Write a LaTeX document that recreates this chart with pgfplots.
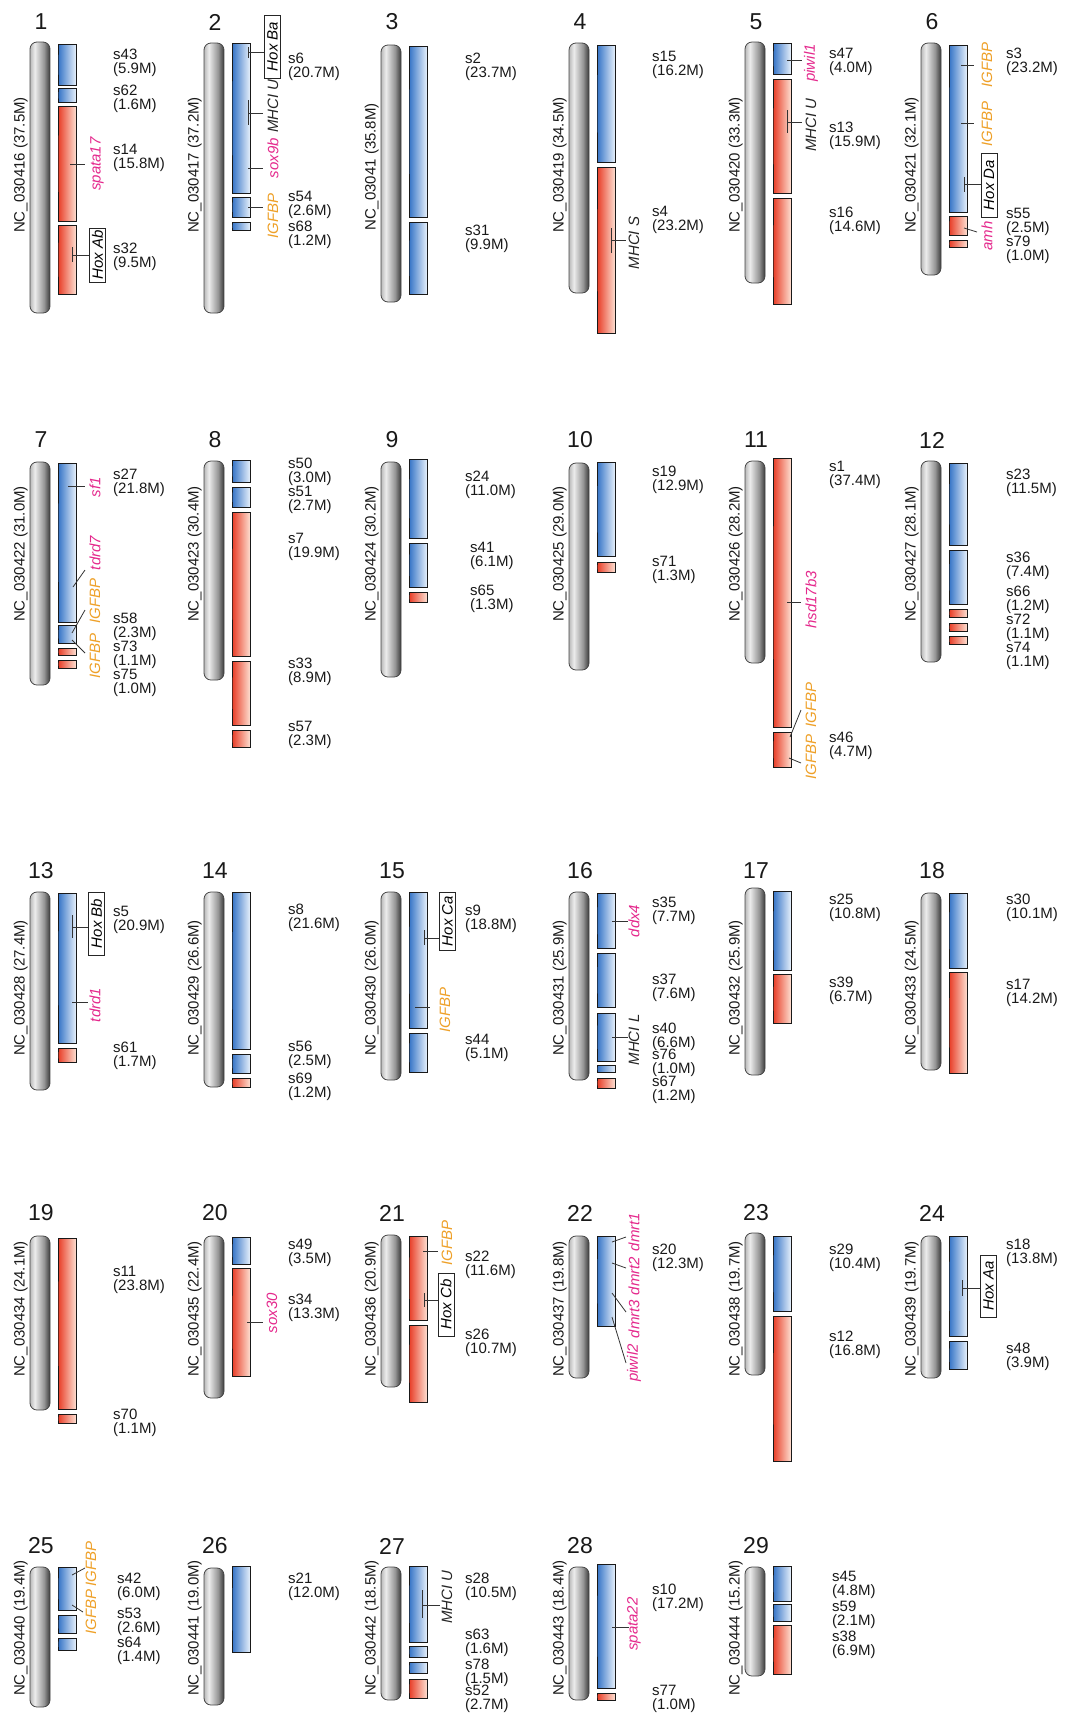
\documentclass[border=0pt]{standalone}
\usepackage{pgfplots}
\pgfplotsset{compat=1.18}
\usepackage{fontspec}
\setmainfont{Liberation Sans}
\definecolor{cg0}{RGB}{185,185,185}
\definecolor{cg1}{RGB}{236,236,236}
\definecolor{cgm}{RGB}{150,150,150}
\definecolor{cg2}{RGB}{58,58,58}
\definecolor{cgb}{RGB}{70,70,70}
\definecolor{bl0}{RGB}{52,115,198}
\definecolor{bl1}{RGB}{230,240,251}
\definecolor{rd0}{RGB}{232,60,38}
\definecolor{rd1}{RGB}{253,222,208}
\definecolor{pk}{RGB}{228,40,140}
\definecolor{og}{RGB}{238,160,40}
\pgfdeclarehorizontalshading{chromsh}{100bp}{color(0bp)=(cg0); color(25bp)=(cg0); color(37bp)=(cg1); color(60bp)=(cgm); color(75bp)=(cg2); color(100bp)=(cg2)}
\newcommand\lf{\fontsize{15}{13.5}\selectfont}
\newcommand\nf{\fontsize{23}{23}\selectfont}
\tikzset{
  chromst/.style={draw=cgb, line width=0.8pt, rounded corners=7pt, shade, shading=chromsh},
  bseg/.style={draw=black!90, line width=0.8pt, left color=bl0, right color=bl1},
  rseg/.style={draw=black!90, line width=0.8pt, left color=rd0, right color=rd1},
  annot/.style={draw=black!80, line width=0.8pt},
  lab/.style={anchor=west, align=left, inner sep=0pt, font=\lf, text=black!90},
  gn/.style={inner sep=0pt, font=\lf\itshape, rotate=90},
}
% grey chromosome: x left, top, bottom, number, number y, name, name y
\newcommand\chrom[7]{%
  \pgfmathsetmacro\xa{#1}\pgfmathsetmacro\xb{#1+20}\pgfmathsetmacro\ym{(#2+#3)/2}%
  \edef\mytmp{\noexpand\addplot[chromst] coordinates {(\xa,\ym) (\xa,#2) (\xb,#2) (\xb,#3) (\xa,#3)} --cycle;}\mytmp
  \node[font=\nf, inner sep=0pt, text=black!90] at (axis cs:#1+11,#5) {#4};
  \node[font=\lf, inner sep=0pt, rotate=90, anchor=south, text=black!90] at (axis cs:#1-2,#7) {#6};
}
% segment: chromosome x left, top, bottom, style
\newcommand\seg[4]{%
  \pgfmathsetmacro\xa{#1+28}\pgfmathsetmacro\xb{#1+46}\pgfmathsetmacro\ym{(#2+#3)/2}%
  \edef\mytmp{\noexpand\addplot[#4] coordinates {(\xa,\ym) (\xa,#2) (\xb,#2) (\xb,#3) (\xa,#3)} --cycle;}\mytmp
}
\newcommand\slab[4]{\node[lab] at (axis cs:#1,#2) {#3\\(#4M)};}
\newcommand\gene[4]{\node[gn, text=#3] at (axis cs:#1,#2) {#4};}
\newcommand\gl[4]{\addplot[annot] coordinates {(#1,#2) (#3,#4)};}
\newcommand\tee[5]{\addplot[annot] coordinates {(#1,#2) (#1,#3)};\addplot[annot] coordinates {(#1,#4) (#5,#4)};}
\newcommand\hox[4]{\node[draw=black!85, line width=0.8pt, fill=white, rotate=90, font=\lf\itshape, inner sep=0pt, minimum width=#3pt, minimum height=16pt] at (axis cs:#1,#2) {#4};}
\begin{document}
\begin{tikzpicture}
\begin{axis}[scale only axis, width=1068pt, height=1717pt,
  xmin=0, xmax=1068, ymin=0, ymax=1717, y dir=reverse, hide axis, clip=false]
\addplot[draw=none] coordinates {(0,0) (1068,1717)};
% ---------------- Row 1
\chrom{30}{42}{313}{1}{22}{NC\_030416 (37.5M)}{165}
\seg{30}{44}{85}{bseg}\seg{30}{88}{102}{bseg}\seg{30}{106}{221}{rseg}\seg{30}{225}{294}{rseg}
\slab{113}{63}{s43}{5.9}\slab{113}{99}{s62}{1.6}\slab{113}{158}{s14}{15.8}\slab{113}{257}{s32}{9.5}
\gl{70}{164}{85}{164}\gene{97}{164}{pk}{spata17}
\tee{72}{247}{262}{255}{89}\hox{97.5}{255}{54}{Hox Ab}

\chrom{204}{43}{313}{2}{22}{NC\_030417 (37.2M)}{165}
\seg{204}{43}{193}{bseg}\seg{204}{197}{217}{bseg}\seg{204}{222}{230}{bseg}
\slab{288}{67}{s6}{20.7}\slab{288}{205}{s54}{2.6}\slab{288}{235}{s68}{1.2}
\tee{248}{47}{58}{52}{265}\hox{272.5}{46.5}{63}{Hox Ba}
\tee{248}{100}{125}{113}{263}\gene{273}{106}{black!85}{MHCI U}
\gl{248}{168}{263}{168}\gene{273}{158}{pk}{sox9b}
\gl{248}{207}{263}{207}\gene{273}{216}{og}{IGFBP}

\chrom{381}{45}{302}{3}{22}{NC\_03041 (35.8M)}{167}
\seg{381}{46}{217}{bseg}\seg{381}{222}{294}{bseg}
\slab{465}{67}{s2}{23.7}\slab{465}{239}{s31}{9.9}

\chrom{569}{43}{293}{4}{22}{NC\_030419 (34.5M)}{165}
\seg{569}{45}{162}{bseg}\seg{569}{167}{333}{rseg}
\slab{652}{65}{s15}{16.2}\slab{652}{220}{s4}{23.2}
\tee{611}{228}{253}{240}{626}\gene{634}{243}{black!85}{MHCI S}

\chrom{745}{42}{283}{5}{22}{NC\_030420 (33.3M)}{165}
\seg{745}{43}{74}{bseg}\seg{745}{79}{193}{rseg}\seg{745}{198}{304}{rseg}
\slab{829}{62}{s47}{4.0}\slab{829}{136}{s13}{15.9}\slab{829}{221}{s16}{14.6}
\gl{787}{60}{802}{60}\gene{811}{63}{pk}{piwil1}
\tee{787}{110}{133}{122}{802}\gene{811}{125}{black!85}{MHCI U}

\chrom{921}{43}{275}{6}{22}{NC\_030421 (32.1M)}{165}
\seg{921}{45}{212}{bseg}\seg{921}{216}{235}{rseg}\seg{921}{240}{247}{rseg}
\slab{1006}{62}{s3}{23.2}\slab{1006}{222}{s55}{2.5}\slab{1006}{250}{s79}{1.0}
\gl{961}{65}{974}{65}\gene{987}{65}{og}{IGFBP}
\gl{961}{123}{974}{123}\gene{987}{124}{og}{IGFBP}
\tee{964}{177}{192}{184}{981}\hox{989}{185}{64}{Hox Da}
\gl{964}{228}{977}{232}\gene{987}{236}{pk}{amh}
% ---------------- Row 2
\chrom{30}{462}{685}{7}{440}{NC\_030422 (31.0M)}{554}
\seg{30}{463}{622}{bseg}\seg{30}{625}{643}{bseg}\seg{30}{648}{655}{rseg}\seg{30}{660}{668}{rseg}
\slab{113}{483}{s27}{21.8}\slab{113}{627}{s58}{2.3}\slab{113}{655}{s73}{1.1}\slab{113}{683}{s75}{1.0}
\gl{68}{486}{85}{486}\gene{95}{487}{pk}{sf1}
\gl{73}{587}{85}{570}\gene{95}{553}{pk}{tdrd7}
\gl{72}{633}{85}{610}\gene{95}{601}{og}{IGFBP}
\gl{72}{640}{85}{653}\gene{95}{656}{og}{IGFBP}

\chrom{204}{461}{680}{8}{440}{NC\_030423 (30.4M)}{554}
\seg{204}{460}{482}{bseg}\seg{204}{487}{507}{bseg}\seg{204}{512}{656}{rseg}\seg{204}{661}{725}{rseg}\seg{204}{730}{747}{rseg}
\slab{288}{472}{s50}{3.0}\slab{288}{500}{s51}{2.7}\slab{288}{547}{s7}{19.9}\slab{288}{672}{s33}{8.9}\slab{288}{735}{s57}{2.3}

\chrom{381}{462}{677}{9}{440}{NC\_030424 (30.2M)}{554}
\seg{381}{459}{538}{bseg}\seg{381}{543}{587}{bseg}\seg{381}{592}{602}{rseg}
\slab{465}{485}{s24}{11.0}\slab{470}{556}{s41}{6.1}\slab{470}{599}{s65}{1.3}

\chrom{569}{463}{670}{10}{440}{NC\_030425 (29.0M)}{554}
\seg{569}{462}{556}{bseg}\seg{569}{562}{572}{rseg}
\slab{652}{480}{s19}{12.9}\slab{652}{570}{s71}{1.3}

\chrom{745}{461}{663}{11}{440}{NC\_030426 (28.2M)}{554}
\seg{745}{458}{727}{rseg}\seg{745}{732}{767}{rseg}
\slab{829}{475}{s1}{37.4}\slab{829}{746}{s46}{4.7}
\gl{787}{602}{801}{602}\gene{811}{600}{pk}{hsd17b3}
\gl{790}{737}{801}{710}\gene{811}{705}{og}{IGFBP}
\gl{789}{758}{801}{763}\gene{811}{757}{og}{IGFBP}

\chrom{921}{461}{662}{12}{440}{NC\_030427 (28.1M)}{554}
\seg{921}{463}{545}{bseg}\seg{921}{550}{604}{bseg}\seg{921}{609}{617}{rseg}\seg{921}{623}{631}{rseg}\seg{921}{636}{644}{rseg}
\slab{1006}{483}{s23}{11.5}\slab{1006}{566}{s36}{7.4}\slab{1006}{600}{s66}{1.2}\slab{1006}{628}{s72}{1.1}\slab{1006}{656}{s74}{1.1}
% ---------------- Row 3
\chrom{30}{892}{1090}{13}{871}{NC\_030428 (27.4M)}{988}
\seg{30}{893}{1043}{bseg}\seg{30}{1048}{1062}{rseg}
\slab{113}{920}{s5}{20.9}\slab{113}{1056}{s61}{1.7}
\tee{72}{915}{938}{927}{88}\hox{96.5}{923.5}{63}{Hox Bb}
\gl{72}{1002}{88}{1002}\gene{95}{1005}{pk}{tdrd1}

\chrom{204}{892}{1087}{14}{871}{NC\_030429 (26.6M)}{988}
\seg{204}{892}{1049}{bseg}\seg{204}{1054}{1073}{bseg}\seg{204}{1078}{1087}{rseg}
\slab{288}{918}{s8}{21.6}\slab{288}{1055}{s56}{2.5}\slab{288}{1087}{s69}{1.2}

\chrom{381}{892}{1080}{15}{871}{NC\_030430 (26.0M)}{988}
\seg{381}{892}{1028}{bseg}\seg{381}{1033}{1072}{bseg}
\slab{465}{919}{s9}{18.8}\slab{465}{1048}{s44}{5.1}
\tee{424}{930}{945}{938}{439}\hox{447.5}{921}{58}{Hox Ca}
\gl{415}{1007}{430}{1007}\gene{445}{1010}{og}{IGFBP}

\chrom{569}{892}{1080}{16}{871}{NC\_030431 (25.9M)}{988}
\seg{569}{893}{948}{bseg}\seg{569}{953}{1007}{bseg}\seg{569}{1013}{1061}{bseg}\seg{569}{1065}{1072}{bseg}\seg{569}{1078}{1088}{rseg}
\slab{652}{911}{s35}{7.7}\slab{652}{988}{s37}{7.6}\slab{652}{1037}{s40}{6.6}\slab{652}{1063}{s76}{1.0}\slab{652}{1090}{s67}{1.2}
\gl{612}{921}{628}{921}\gene{634}{921}{pk}{ddx4}
\gl{612}{1037}{628}{1037}\gene{634}{1040}{black!85}{MHCI L}

\chrom{745}{888}{1075}{17}{871}{NC\_030432 (25.9M)}{988}
\seg{745}{891}{970}{bseg}\seg{745}{974}{1023}{rseg}
\slab{829}{908}{s25}{10.8}\slab{829}{991}{s39}{6.7}

\chrom{921}{893}{1070}{18}{871}{NC\_030433 (24.5M)}{988}
\seg{921}{893}{968}{bseg}\seg{921}{972}{1073}{rseg}
\slab{1006}{908}{s30}{10.1}\slab{1006}{993}{s17}{14.2}
% ---------------- Row 4
\chrom{30}{1236}{1410}{19}{1213}{NC\_030434 (24.1M)}{1309}
\seg{30}{1238}{1409}{rseg}\seg{30}{1414}{1423}{rseg}
\slab{113}{1280}{s11}{23.8}\slab{113}{1423}{s70}{1.1}

\chrom{204}{1236}{1398}{20}{1213}{NC\_030435 (22.4M)}{1309}
\seg{204}{1237}{1264}{bseg}\seg{204}{1268}{1376}{rseg}
\slab{288}{1253}{s49}{3.5}\slab{288}{1308}{s34}{13.3}
\gl{247}{1322}{263}{1322}\gene{272}{1313}{pk}{sox30}

\chrom{381}{1235}{1387}{21}{1213}{NC\_030436 (20.9M)}{1309}
\seg{381}{1236}{1320}{rseg}\seg{381}{1325}{1402}{rseg}
\slab{465}{1265}{s22}{11.6}\slab{465}{1343}{s26}{10.7}
\gl{423}{1251}{438}{1251}\gene{447}{1243}{og}{IGFBP}
\tee{424}{1293}{1307}{1300}{438}\hox{446}{1304.5}{63}{Hox Cb}

\chrom{569}{1236}{1378}{22}{1213}{NC\_030437 (19.8M)}{1309}
\seg{569}{1236}{1326}{bseg}
\slab{652}{1258}{s20}{12.3}
\gl{612}{1242}{626}{1237}\gene{634}{1232}{pk}{dmrt1}
\gl{612}{1263}{626}{1268}\gene{634}{1276}{pk}{dmrt2}
\gl{612}{1293}{626}{1312}\gene{634}{1319}{pk}{dmrt3}
\gl{612}{1317}{626}{1363}\gene{634}{1363}{pk}{piwil2}

\chrom{745}{1233}{1375}{23}{1213}{NC\_030438 (19.7M)}{1309}
\seg{745}{1236}{1311}{bseg}\seg{745}{1316}{1461}{rseg}
\slab{829}{1258}{s29}{10.4}\slab{829}{1345}{s12}{16.8}

\chrom{921}{1236}{1378}{24}{1213}{NC\_030439 (19.7M)}{1309}
\seg{921}{1236}{1336}{bseg}\seg{921}{1341}{1369}{bseg}
\slab{1006}{1253}{s18}{13.8}\slab{1006}{1357}{s48}{3.9}
\tee{962}{1280}{1296}{1288}{981}\hox{988.5}{1286}{62}{Hox Aa}
% ---------------- Row 5
\chrom{30}{1567}{1707}{25}{1546}{NC\_030440 (19.4M)}{1628}
\seg{30}{1567}{1610}{bseg}\seg{30}{1615}{1633}{bseg}\seg{30}{1638}{1650}{bseg}
\slab{117}{1587}{s42}{6.0}\slab{117}{1622}{s53}{2.6}\slab{117}{1651}{s64}{1.4}
\gl{72}{1575}{85}{1568}\gene{91}{1564}{og}{IGFBP}
\gl{72}{1605}{83}{1612}\gene{91}{1612}{og}{IGFBP}

\chrom{204}{1568}{1705}{26}{1546}{NC\_030441 (19.0M)}{1628}
\seg{204}{1566}{1652}{bseg}
\slab{288}{1587}{s21}{12.0}

\chrom{381}{1567}{1700}{27}{1546}{NC\_030442 (18.5M)}{1628}
\seg{381}{1566}{1642}{bseg}\seg{381}{1646}{1657}{bseg}\seg{381}{1662}{1673}{bseg}\seg{381}{1679}{1698}{rseg}
\slab{465}{1587}{s28}{10.5}\slab{465}{1643}{s63}{1.6}\slab{465}{1673}{s78}{1.5}\slab{465}{1699}{s52}{2.7}
\tee{422}{1590}{1618}{1605}{440}\gene{447}{1597}{black!85}{MHCI U}

\chrom{569}{1567}{1700}{28}{1546}{NC\_030443 (18.4M)}{1628}
\seg{569}{1564}{1688}{bseg}\seg{569}{1693}{1700}{rseg}
\slab{652}{1598}{s10}{17.2}\slab{652}{1699}{s77}{1.0}
\gl{612}{1627}{629}{1627}\gene{634}{1624}{pk}{spata22}

\chrom{745}{1567}{1676}{29}{1546}{NC\_030444 (15.2M)}{1628}
\seg{745}{1566}{1601}{bseg}\seg{745}{1604}{1621}{bseg}\seg{745}{1625}{1674}{rseg}
\slab{832}{1585}{s45}{4.8}\slab{832}{1615}{s59}{2.1}\slab{832}{1645}{s38}{6.9}
\end{axis}
\end{tikzpicture}
\end{document}
